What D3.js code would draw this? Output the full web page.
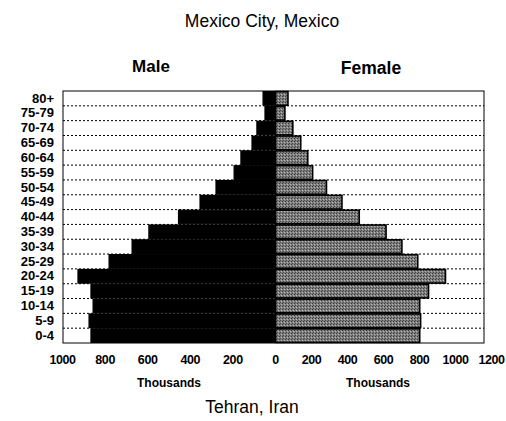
<!DOCTYPE html>
<html>
<head>
<meta charset="utf-8">
<script src="https://cdn.jsdelivr.net/npm/d3@7"></script>
<style>
  body { margin: 0; background: #fff; }
  text { font-family: "Liberation Sans", Arial, sans-serif; fill: #000; }
</style>
</head>
<body>
<script>
// age groups, top row first
var ages = ["80+", "75-79", "70-74", "65-69", "60-64", "55-59", "50-54", "45-49",
            "40-44", "35-39", "30-34", "25-29", "20-24", "15-19", "10-14", "5-9", "0-4"];
// population in thousands
var male = [56, 47, 85, 108, 160, 192, 277, 352, 453, 592, 671, 779, 925, 864, 854, 873, 864];
var female = [72, 55, 99, 143, 182, 209, 286, 372, 468, 617, 705, 793, 947, 853, 804, 809, 804];
var maleTicks = [1000, 800, 600, 400, 200, 0];
var femaleTicks = [0, 200, 400, 600, 800, 1000, 1200];

var width = 506, height = 421;
var frame = {left: 63, right: 484, top: 91, bottom: 343};
var mid = 275;

var svg = d3.select("body").append("svg")
    .attr("width", width)
    .attr("height", height);

// stipple pattern for the female bars
var pat = svg.append("defs").append("pattern")
    .attr("id", "stip")
    .attr("width", 3).attr("height", 3)
    .attr("patternUnits", "userSpaceOnUse");
pat.append("rect").attr("width", 3).attr("height", 3).attr("fill", "#7e7e7e");
pat.append("rect").attr("x", 0).attr("y", 0).attr("width", 1).attr("height", 1).attr("fill", "#3a3a3a");
pat.append("rect").attr("x", 2).attr("y", 1).attr("width", 1).attr("height", 1).attr("fill", "#b8b8b8");
pat.append("rect").attr("x", 1).attr("y", 2).attr("width", 1).attr("height", 1).attr("fill", "#4c4c4c");

//scales
var y = d3.scaleBand()
    .domain(ages)
    .range([frame.top, frame.bottom])
    .paddingInner(0.08)
    .paddingOuter(0.04);
var xm = d3.scaleLinear().domain([0, 1000]).range([mid, 62]);
var xf = d3.scaleLinear().domain([0, 1200]).range([mid, 491]);

//dotted grid lines between the rows
var step = (frame.bottom - frame.top) / ages.length;
svg.append("g").selectAll("line")
    .data(d3.range(1, ages.length))
    .join("line")
    .attr("x1", frame.left).attr("x2", frame.right)
    .attr("y1", function (i) { return frame.top + i * step; })
    .attr("y2", function (i) { return frame.top + i * step; })
    .attr("stroke", "#000")
    .attr("stroke-width", 1)
    .attr("stroke-dasharray", "2,2");

//male bars
svg.append("g").selectAll("rect")
    .data(male)
    .join("rect")
    .attr("x", function (d) { return xm(d); })
    .attr("y", function (d, i) { return y(ages[i]); })
    .attr("width", function (d) { return mid - xm(d); })
    .attr("height", y.bandwidth())
    .attr("fill", "#000")
    .attr("stroke", "#000")
    .attr("stroke-width", 1.2);

//female bars
svg.append("g").selectAll("rect")
    .data(female)
    .join("rect")
    .attr("x", mid + 0.5)
    .attr("y", function (d, i) { return y(ages[i]); })
    .attr("width", function (d) { return xf(d) - mid - 0.5; })
    .attr("height", y.bandwidth())
    .attr("fill", "url(#stip)")
    .attr("stroke", "#000")
    .attr("stroke-width", 1.6);

//frame
svg.append("rect")
    .attr("x", frame.left).attr("y", frame.top)
    .attr("width", frame.right - frame.left)
    .attr("height", frame.bottom - frame.top)
    .attr("fill", "none")
    .attr("stroke", "#000")
    .attr("stroke-width", 1);

//y axis labels
var yAxis = svg.append("g")
    .attr("transform", "translate(" + frame.left + ",0)")
    .call(d3.axisLeft(y).tickSize(0).tickPadding(9));
yAxis.select(".domain").remove();
yAxis.selectAll("text")
    .style("font-size", "13px").style("font-weight", "bold")
    .style("font-family", "Liberation Sans, Arial, sans-serif");

//x axes
function styleAxis(g) {
    g.select(".domain").remove();
    g.selectAll("text")
        .style("font-size", "12.5px").style("font-weight", "bold")
        .style("letter-spacing", "-0.4px")
        .style("font-family", "Liberation Sans, Arial, sans-serif");
}
svg.append("g")
    .attr("transform", "translate(0," + frame.bottom + ")")
    .call(d3.axisBottom(xm).tickValues(maleTicks).tickSize(0).tickPadding(12).tickFormat(d3.format("d")))
    .call(styleAxis);
svg.append("g")
    .attr("transform", "translate(0," + frame.bottom + ")")
    .call(d3.axisBottom(xf).tickValues(femaleTicks.slice(1)).tickSize(0).tickPadding(12).tickFormat(d3.format("d")))
    .call(styleAxis);

//titles
svg.append("text").attr("x", 262).attr("y", 27).attr("text-anchor", "middle")
    .style("font-size", "17.5px").text("Mexico City, Mexico");
svg.append("text").attr("x", 151).attr("y", 72).attr("text-anchor", "middle")
    .style("font-size", "17px").style("font-weight", "bold").text("Male");
svg.append("text").attr("x", 371).attr("y", 74).attr("text-anchor", "middle")
    .style("font-size", "17.5px").style("font-weight", "bold").text("Female");
svg.append("text").attr("x", 169).attr("y", 387).attr("text-anchor", "middle")
    .style("font-size", "12px").style("font-weight", "bold").text("Thousands");
svg.append("text").attr("x", 378).attr("y", 387).attr("text-anchor", "middle")
    .style("font-size", "12px").style("font-weight", "bold").text("Thousands");
svg.append("text").attr("x", 252).attr("y", 413).attr("text-anchor", "middle")
    .style("font-size", "17.5px").text("Tehran, Iran");
</script>
</body>
</html>
